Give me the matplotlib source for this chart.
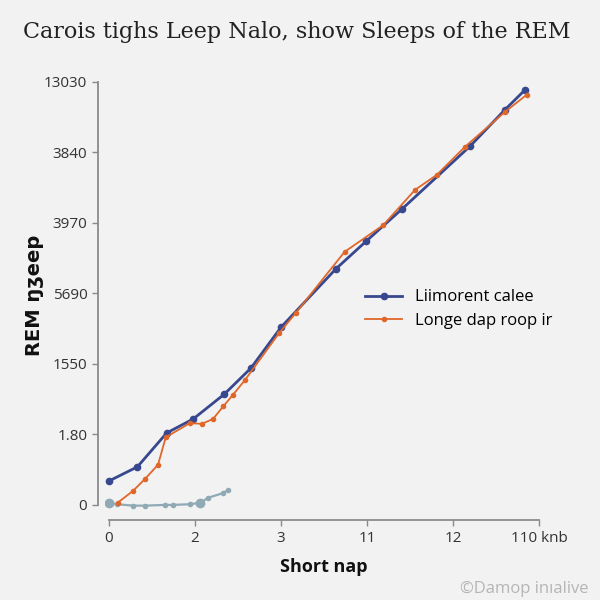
import matplotlib
matplotlib.use("Agg")
import matplotlib.pyplot as plt

# Tick labels (categorical positions)
x_tick_labels = ["0", "2", "3", "11", "12", "110 knb"]
y_tick_labels = ["0", "1.80", "1550", "5690", "3970", "3840", "13030"]

# Series 1: Liimorent calee
blue_x = [0.0, 0.33, 0.67, 0.98, 1.34, 1.65, 2.0, 2.64, 2.99, 3.41, 4.20, 4.60, 4.84]
blue_y = [0.34, 0.54, 1.02, 1.22, 1.57, 1.94, 2.52, 3.35, 3.74, 4.20, 5.09, 5.60, 5.89]

# Series 2: Longe dap roop ir
orange_x = [0.10, 0.28, 0.42, 0.57, 0.66, 0.94, 1.08, 1.21, 1.33, 1.44, 1.58, 1.98, 2.17,
            2.74, 3.19, 3.56, 3.81, 4.14, 4.60, 4.86]
orange_y = [0.03, 0.20, 0.37, 0.57, 0.96, 1.16, 1.15, 1.22, 1.40, 1.56, 1.77, 2.44, 2.72,
            3.59, 3.97, 4.47, 4.68, 5.08, 5.57, 5.82]

# Series 3: unlabeled grey series
grey_x = [0.0, 0.09, 0.28, 0.42, 0.65, 0.74, 0.94, 1.06, 1.15, 1.33, 1.38]
grey_y = [0.03, 0.01, -0.01, -0.01, 0.0, 0.0, 0.01, 0.03, 0.10, 0.17, 0.21]

plt.rcParams['font.family'] = ['Open Sans', 'DejaVu Sans']

bg = "#f2f2f2"
fig = plt.figure(figsize=(6, 6), dpi=100, facecolor=bg)
ax = fig.add_axes([0.1745, 0.1467, 0.731, 0.7227], facecolor=bg)

ax.plot(grey_x, grey_y, color="#8fa9b5", lw=1.6, marker="o", ms=3)
ax.plot([grey_x[0], grey_x[7]], [grey_y[0], grey_y[7]], ls="none", marker="o", ms=6, color="#8fa9b5")
ax.plot(blue_x, blue_y, color="#38488f", lw=2.0, marker="o", ms=4.5, label="Liimorent calee")
ax.plot(orange_x, orange_y, color="#e0672a", lw=1.3, marker="o", ms=3, label="Longe dap roop ir")

ax.set_xlim(-0.05, 5.05)
ax.set_ylim(-0.1, 6.05)
ax.set_xticks(range(len(x_tick_labels)))
ax.set_xticklabels(x_tick_labels)
ax.set_yticks(range(len(y_tick_labels)))
ax.set_yticklabels(y_tick_labels)

for s in ["top", "right"]:
    ax.spines[s].set_visible(False)
ax.spines["left"].set_position(("outward", 5))
ax.spines["bottom"].set_position(("outward", 6))
ax.spines["left"].set_bounds(0, 6)
ax.spines["bottom"].set_bounds(0, 5)
for s in ["left", "bottom"]:
    ax.spines[s].set_color("#8a8a8a")
    ax.spines[s].set_linewidth(1.3)
ax.tick_params(colors="#8a8a8a", labelcolor="#333333", labelsize=11, length=4, width=1)

ax.set_xlabel("Short nap", fontsize=13, fontweight="bold", labelpad=9, color="#111111")
ax.set_ylabel("REM ŋʒeep", fontsize=14, fontweight="bold", labelpad=0, color="#111111",
              family=["DejaVu Sans"])

fig.text(0.495, 0.947, "Carois tighs Leep Nalo, show Sleeps of the REM",
         ha="center", va="center", fontsize=16, family="DejaVu Serif", color="#222222")

ax.legend(loc="upper left", bbox_to_anchor=(0.56, 0.548), frameon=False, fontsize=12,
          handlelength=2.2, labelspacing=0.45)

fig.text(0.98, 0.018, "©Damop inıalive", ha="right", va="center", fontsize=12, color="#b5b5b5")

fig.savefig("out.png", dpi=100, facecolor=bg)
